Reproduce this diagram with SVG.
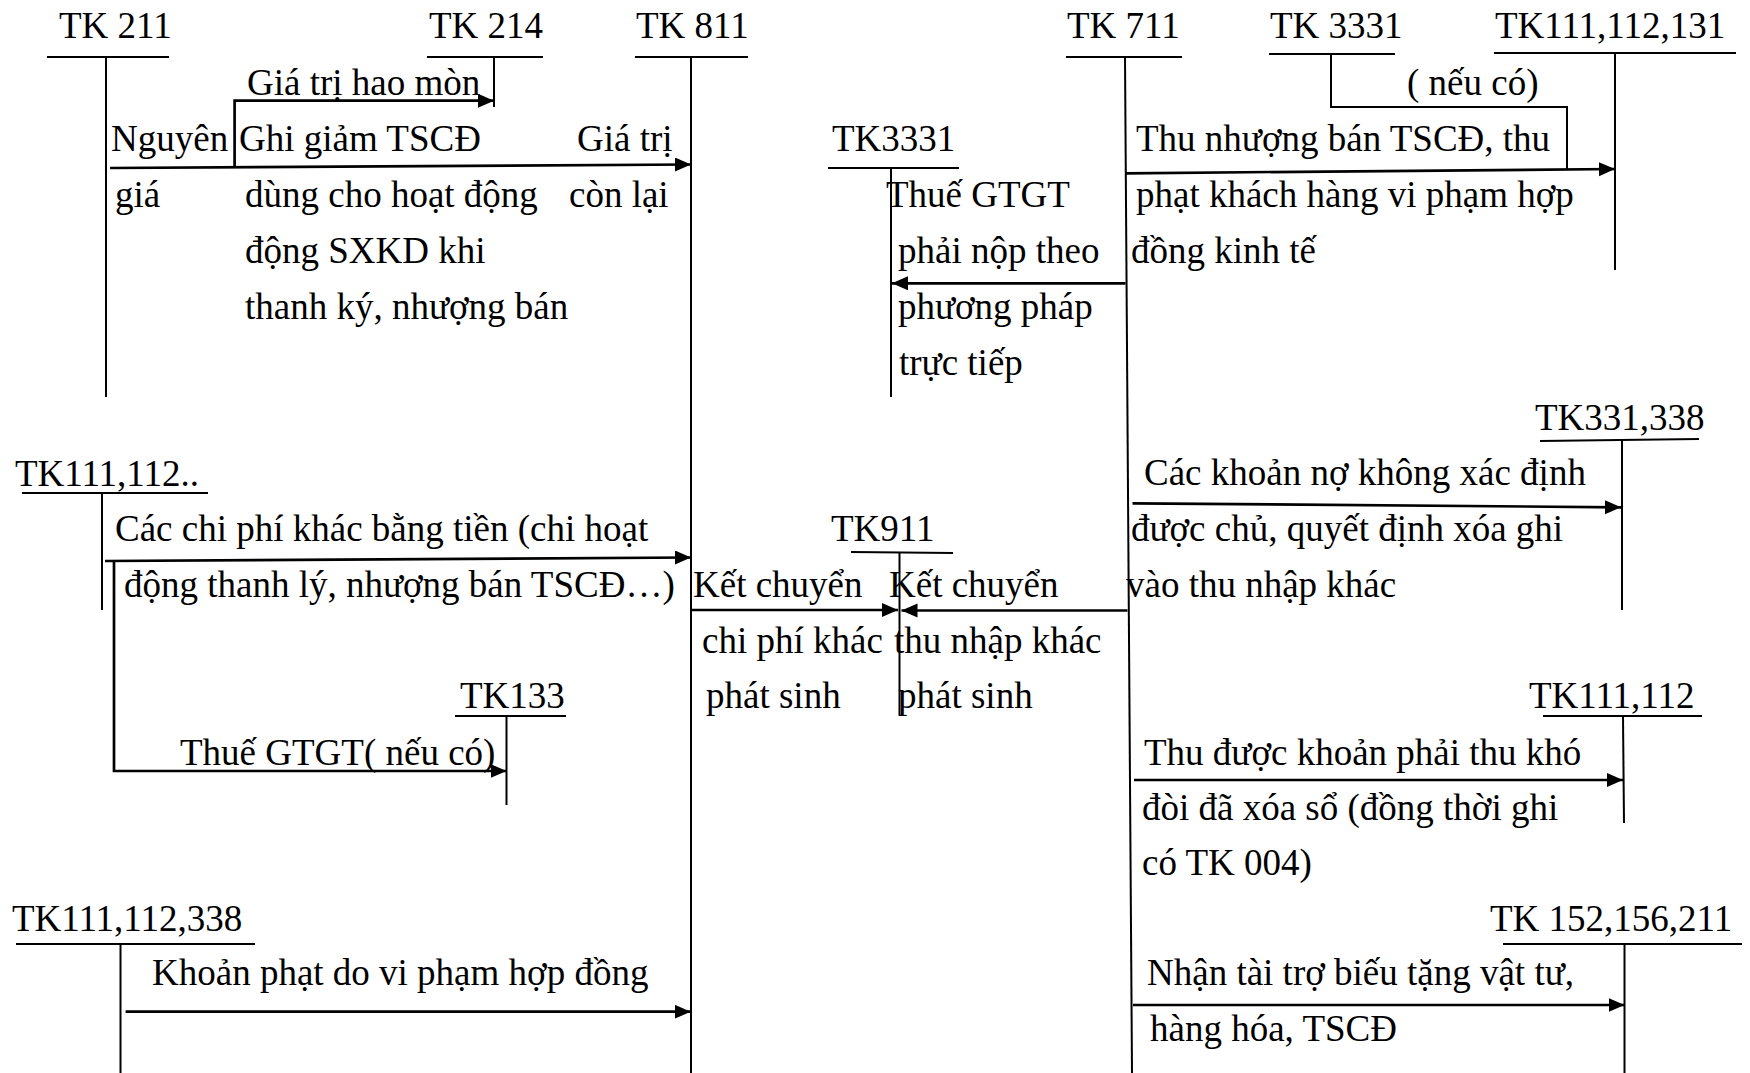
<svg xmlns="http://www.w3.org/2000/svg" width="1750" height="1073" viewBox="0 0 1750 1073">
  <style>
    text { font-family: "Liberation Serif", "Times New Roman", serif; font-size: 37px; fill: #000; }
    .acct line { stroke: #000; stroke-width: 2; fill: none; }
    .flow { stroke: #000; stroke-width: 2.7; fill: none; }
    .link { stroke: #000; stroke-width: 2; fill: none; }
  </style>
  <defs>
    <marker id="arrow" markerUnits="userSpaceOnUse" markerWidth="17" markerHeight="15" refX="16" refY="7" orient="auto">
      <path d="M0,0 L16,7 L0,14 z" fill="#000"/>
    </marker>
  </defs>
  <rect width="1750" height="1073" fill="#fff"/>

  <!-- T-accounts: title, underline and vertical stem -->
  <g id="tk211" class="acct">
    <text x="59" y="38">TK 211</text>
    <line x1="47" y1="57" x2="169" y2="57"/>
    <line x1="106" y1="57" x2="106" y2="397"/>
  </g>
  <g id="tk214" class="acct">
    <text x="429" y="38">TK 214</text>
    <line x1="427" y1="57" x2="543" y2="57"/>
    <line x1="494" y1="57" x2="494" y2="107"/>
  </g>
  <g id="tk811" class="acct">
    <text x="636" y="38">TK 811</text>
    <line x1="635" y1="57" x2="748" y2="57"/>
    <line x1="691" y1="57" x2="691" y2="1073"/>
  </g>
  <g id="tk711" class="acct">
    <text x="1067" y="38">TK 711</text>
    <line x1="1066" y1="57" x2="1182" y2="57"/>
    <line x1="1125" y1="57" x2="1132" y2="1073"/>
  </g>
  <g id="tk3331-top" class="acct">
    <text x="1270" y="38">TK 3331</text>
    <line x1="1269" y1="54" x2="1395" y2="54"/>
  </g>
  <g id="tk111-112-131" class="acct">
    <text x="1495" y="38">TK111,112,131</text>
    <line x1="1494" y1="53" x2="1736" y2="53"/>
    <line x1="1615" y1="53" x2="1615" y2="270"/>
  </g>
  <g id="tk3331" class="acct">
    <text x="832" y="151">TK3331</text>
    <line x1="828" y1="168" x2="959" y2="168"/>
    <line x1="891" y1="169" x2="891" y2="397"/>
  </g>
  <g id="tk111-112" class="acct">
    <text x="15" y="486">TK111,112..</text>
    <line x1="22" y1="493" x2="208" y2="493"/>
    <line x1="102" y1="493" x2="102" y2="610"/>
  </g>
  <g id="tk133" class="acct">
    <text x="460" y="708">TK133</text>
    <line x1="455" y1="716" x2="566" y2="716"/>
    <line x1="506.5" y1="716" x2="506.5" y2="805"/>
  </g>
  <g id="tk911" class="acct">
    <text x="831" y="541">TK911</text>
    <line x1="851" y1="552" x2="953" y2="553"/>
    <line x1="899.5" y1="552" x2="899.5" y2="715"/>
  </g>
  <g id="tk331-338" class="acct">
    <text x="1535" y="430">TK331,338</text>
    <line x1="1540" y1="441" x2="1699" y2="439"/>
    <line x1="1622" y1="440" x2="1622" y2="610"/>
  </g>
  <g id="tk111-112-r" class="acct">
    <text x="1529" y="708">TK111,112</text>
    <line x1="1543" y1="716" x2="1702" y2="716"/>
    <line x1="1623" y1="716" x2="1624" y2="823"/>
  </g>
  <g id="tk111-112-338" class="acct">
    <text x="12" y="931">TK111,112,338</text>
    <line x1="16" y1="944" x2="255" y2="944"/>
    <line x1="120.5" y1="944" x2="120.5" y2="1073"/>
  </g>
  <g id="tk152-156-211" class="acct">
    <text x="1490" y="931">TK 152,156,211</text>
    <line x1="1503" y1="944" x2="1742" y2="944"/>
    <line x1="1624.5" y1="944" x2="1624.5" y2="1073"/>
  </g>

  <!-- Postings between accounts -->
  <g id="connectors">
    <path class="flow" d="M234.6,166.7 V100.7 H494" marker-end="url(#arrow)"/>
    <line class="flow" x1="110" y1="168" x2="691" y2="164.5" marker-end="url(#arrow)"/>
    <path class="link" d="M1331,54 V107 H1567 V170"/>
    <line class="flow" x1="1126" y1="173.3" x2="1615" y2="169" marker-end="url(#arrow)"/>
    <line class="flow" x1="1125.5" y1="283.3" x2="892" y2="283.3" marker-end="url(#arrow)"/>
    <line class="flow" x1="105" y1="561" x2="691" y2="557.5" marker-end="url(#arrow)"/>
    <path class="flow" d="M114,561 V771 H506.5" marker-end="url(#arrow)"/>
    <line class="flow" x1="691" y1="610" x2="898" y2="610" marker-end="url(#arrow)"/>
    <line class="flow" x1="1127.5" y1="610.5" x2="901.5" y2="610.5" marker-end="url(#arrow)"/>
    <line class="flow" x1="1132.5" y1="503.3" x2="1621" y2="507.3" marker-end="url(#arrow)"/>
    <line class="flow" x1="1134" y1="780" x2="1623" y2="780" marker-end="url(#arrow)"/>
    <line class="flow" x1="1133" y1="1005" x2="1624.5" y2="1005" marker-end="url(#arrow)"/>
    <line class="flow" x1="125.6" y1="1011.7" x2="690.7" y2="1011.7" marker-end="url(#arrow)"/>
  </g>

  <!-- Posting descriptions -->
  <g id="labels">
    <text x="247" y="95">Giá trị hao mòn</text>
    <text x="1407" y="95">( nếu có)</text>
    <text x="111" y="151">Nguyên</text>
    <text x="115" y="207">giá</text>
    <text x="239" y="151">Ghi giảm TSCĐ</text>
    <text x="245" y="207">dùng cho hoạt động</text>
    <text x="245" y="263">động SXKD khi</text>
    <text x="245" y="319">thanh ký, nhượng bán</text>
    <text x="577" y="151">Giá trị</text>
    <text x="569" y="207">còn lại</text>
    <text x="886" y="207">Thuế GTGT</text>
    <text x="898" y="263">phải nộp theo</text>
    <text x="898" y="319">phương pháp</text>
    <text x="899" y="375">trực tiếp</text>
    <text x="1136" y="151">Thu nhượng bán TSCĐ, thu</text>
    <text x="1136" y="207">phạt khách hàng vi phạm hợp</text>
    <text x="1131" y="263">đồng kinh tế</text>
    <text x="115" y="541">Các chi phí khác bằng tiền (chi hoạt</text>
    <text x="124" y="597">động thanh lý, nhượng bán TSCĐ…)</text>
    <text x="180" y="765">Thuế GTGT( nếu có)</text>
    <text x="693" y="597">Kết chuyển</text>
    <text x="702" y="653">chi phí khác</text>
    <text x="706" y="708">phát sinh</text>
    <text x="889" y="597">Kết chuyển</text>
    <text x="894" y="653">thu nhập khác</text>
    <text x="898" y="708">phát sinh</text>
    <text x="1144" y="485">Các khoản nợ không xác định</text>
    <text x="1131" y="541">được chủ, quyết định xóa ghi</text>
    <text x="1126" y="597">vào thu nhập khác</text>
    <text x="1144" y="765">Thu được khoản phải thu khó</text>
    <text x="1142" y="820">đòi đã xóa sổ (đồng thời ghi</text>
    <text x="1142" y="875">có TK 004)</text>
    <text x="152" y="985">Khoản phạt do vi phạm hợp đồng</text>
    <text x="1147" y="985">Nhận tài trợ biếu tặng vật tư,</text>
    <text x="1150" y="1041">hàng hóa, TSCĐ</text>
  </g>
</svg>
